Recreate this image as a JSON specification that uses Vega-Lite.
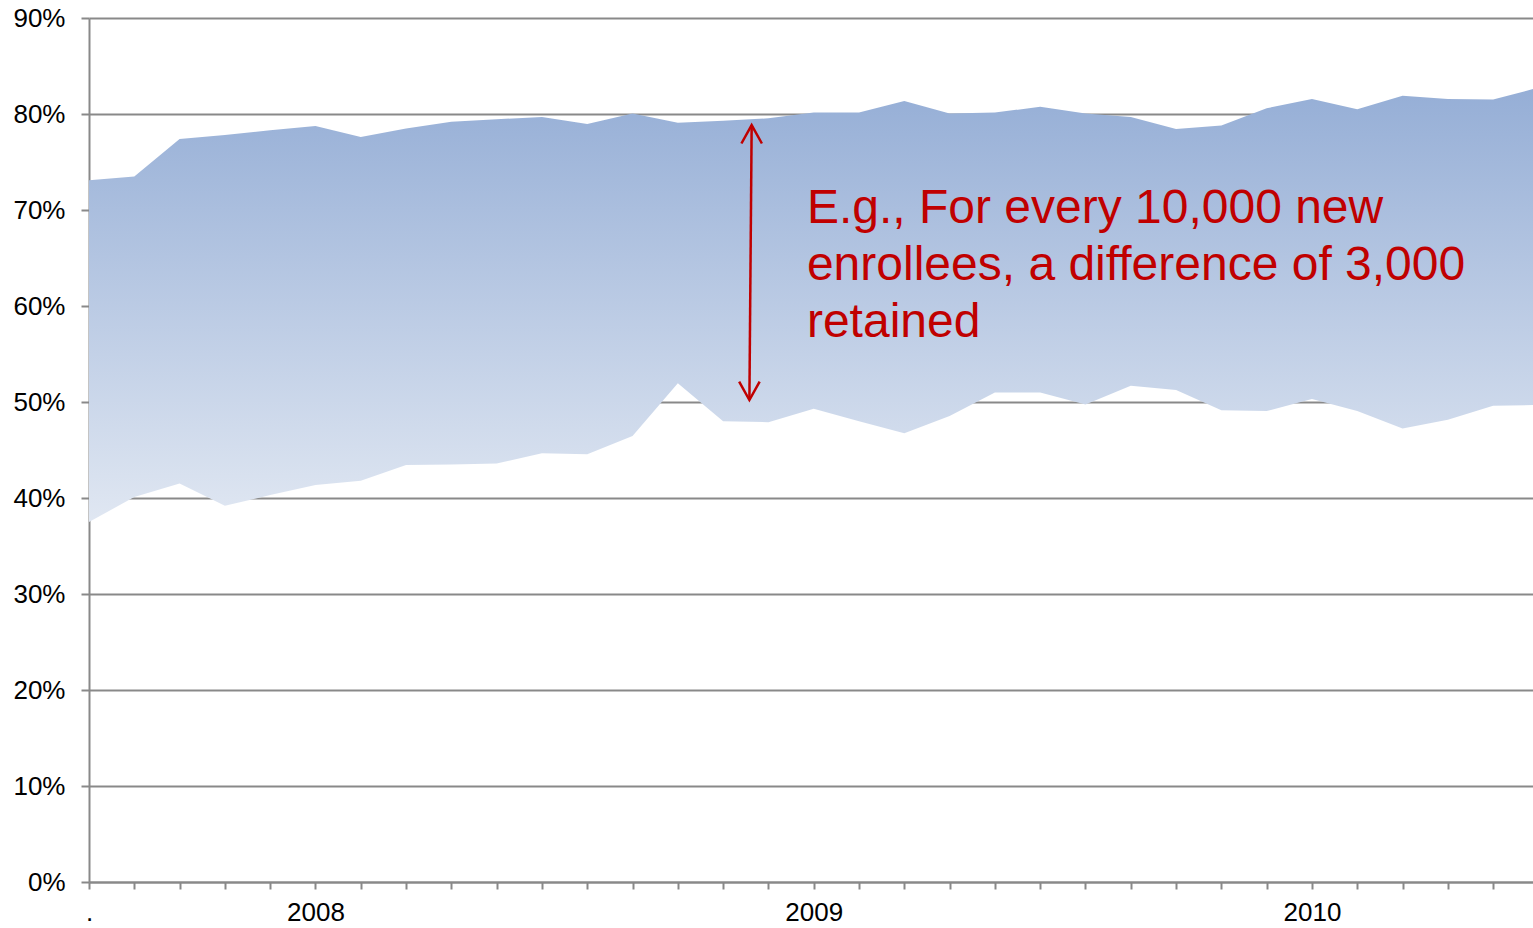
{
  "$schema": "https://vega.github.io/schema/vega-lite/v6.json",
  "width": 1444,
  "height": 864,
  "autosize": {"type": "none"},
  "padding": {"left": 89, "top": 18, "right": 0, "bottom": 46},
  "background": "white",
  "config": {"view": {"stroke": null}, "font": "Liberation Sans"},
  "data": {
    "values": [
      {"t": 0, "upper": 73.1, "lower": 37.5},
      {"t": 1, "upper": 73.5, "lower": 40.1},
      {"t": 2, "upper": 77.4, "lower": 41.5},
      {"t": 3, "upper": 77.8, "lower": 39.2},
      {"t": 4, "upper": 78.3, "lower": 40.3},
      {"t": 5, "upper": 78.75, "lower": 41.35},
      {"t": 6, "upper": 77.6, "lower": 41.8},
      {"t": 7, "upper": 78.5, "lower": 43.45},
      {"t": 8, "upper": 79.2, "lower": 43.5},
      {"t": 9, "upper": 79.45, "lower": 43.6},
      {"t": 10, "upper": 79.7, "lower": 44.65},
      {"t": 11, "upper": 78.95, "lower": 44.55},
      {"t": 12, "upper": 80.05, "lower": 46.45},
      {"t": 13, "upper": 79.1, "lower": 51.95},
      {"t": 14, "upper": 79.3, "lower": 48.0},
      {"t": 15, "upper": 79.55, "lower": 47.9},
      {"t": 16, "upper": 80.15, "lower": 49.3},
      {"t": 17, "upper": 80.15, "lower": 48.0},
      {"t": 18, "upper": 81.35, "lower": 46.75},
      {"t": 19, "upper": 80.05, "lower": 48.55},
      {"t": 20, "upper": 80.15, "lower": 51.0},
      {"t": 21, "upper": 80.75, "lower": 51.0},
      {"t": 22, "upper": 80.05, "lower": 49.75},
      {"t": 23, "upper": 79.7, "lower": 51.7},
      {"t": 24, "upper": 78.45, "lower": 51.25},
      {"t": 25, "upper": 78.8, "lower": 49.15},
      {"t": 26, "upper": 80.6, "lower": 49.05},
      {"t": 27, "upper": 81.55, "lower": 50.3},
      {"t": 28, "upper": 80.5, "lower": 49.05},
      {"t": 29, "upper": 81.9, "lower": 47.25},
      {"t": 30, "upper": 81.55, "lower": 48.15},
      {"t": 31, "upper": 81.5, "lower": 49.6},
      {"t": 32, "upper": 82.75, "lower": 49.7}
    ]
  },
  "layer": [
    {
      "mark": {
        "type": "area",
        "clip": true,
        "color": {
          "gradient": "linear",
          "x1": 0, "y1": 0, "x2": 0, "y2": 1,
          "stops": [
            {"offset": 0, "color": "#95AED6"},
            {"offset": 1, "color": "#E0E7F2"}
          ]
        }
      },
      "encoding": {
        "x": {
          "field": "t",
          "type": "quantitative",
          "scale": {"domain": [0, 31.88], "nice": false, "zero": false},
          "axis": {
            "title": null,
            "values": [0,1,2,3,4,5,6,7,8,9,10,11,12,13,14,15,16,17,18,19,20,21,22,23,24,25,26,27,28,29,30,31],
            "labelExpr": "datum.value == 0 ? '.' : datum.value == 5 ? '2008' : datum.value == 16 ? '2009' : datum.value == 27 ? '2010' : ''",
            "grid": false,
            "tickSize": 7,
            "tickWidth": 2,
            "tickColor": "#898989",
            "domainColor": "#898989",
            "domainWidth": 2,
            "labelFont": "Liberation Sans",
            "labelFontSize": 26,
            "labelColor": "#000000",
            "labelPadding": 31,
            "labelBaseline": "alphabetic",
            "labelOverlap": false,
            "labelFlush": false,
            "labelBound": false
          }
        },
        "y": {
          "field": "upper",
          "type": "quantitative",
          "scale": {"domain": [0, 90], "nice": false},
          "axis": {
            "title": null,
            "values": [0,10,20,30,40,50,60,70,80,90],
            "labelExpr": "datum.value + '%'",
            "grid": true,
            "gridColor": "#898989",
            "gridWidth": 2,
            "tickSize": 8,
            "tickWidth": 2,
            "tickColor": "#898989",
            "domainColor": "#898989",
            "domainWidth": 2,
            "labelFont": "Liberation Sans",
            "labelFontSize": 26,
            "labelColor": "#000000",
            "labelPadding": 16,
            "labelOverlap": false,
            "labelFlush": false,
            "labelBound": false
          }
        },
        "y2": {"field": "lower"}
      }
    },
    {
      "data": {"values": [{}]},
      "mark": {"type": "rule", "color": "#C00000", "strokeWidth": 2.5},
      "encoding": {
        "x": {"datum": 14.63, "type": "quantitative"},
        "y": {"datum": 78.85, "type": "quantitative"},
        "x2": {"datum": 14.58},
        "y2": {"datum": 50.21}
      }
    },
    {
      "data": {"values": [{}]},
      "mark": {"type": "point", "shape": "M-1,1.8L0,0L1,1.8", "size": 420, "filled": false, "stroke": "#C00000", "strokeWidth": 2.5, "opacity": 1},
      "encoding": {
        "x": {"datum": 14.63, "type": "quantitative"},
        "y": {"datum": 78.85, "type": "quantitative"}
      }
    },
    {
      "data": {"values": [{}]},
      "mark": {"type": "point", "shape": "M-1,-1.8L0,0L1,-1.8", "size": 420, "filled": false, "stroke": "#C00000", "strokeWidth": 2.5, "opacity": 1},
      "encoding": {
        "x": {"datum": 14.58, "type": "quantitative"},
        "y": {"datum": 50.21, "type": "quantitative"}
      }
    },
    {
      "data": {"values": [{}]},
      "mark": {
        "type": "text",
        "text": ["E.g., For every 10,000 new", "enrollees, a difference of 3,000", "retained"],
        "align": "left",
        "baseline": "alphabetic",
        "font": "Liberation Sans",
        "fontSize": 48,
        "lineHeight": 57,
        "color": "#C00000"
      },
      "encoding": {
        "x": {"datum": 15.85, "type": "quantitative"},
        "y": {"datum": 68.65, "type": "quantitative"}
      }
    }
  ]
}
